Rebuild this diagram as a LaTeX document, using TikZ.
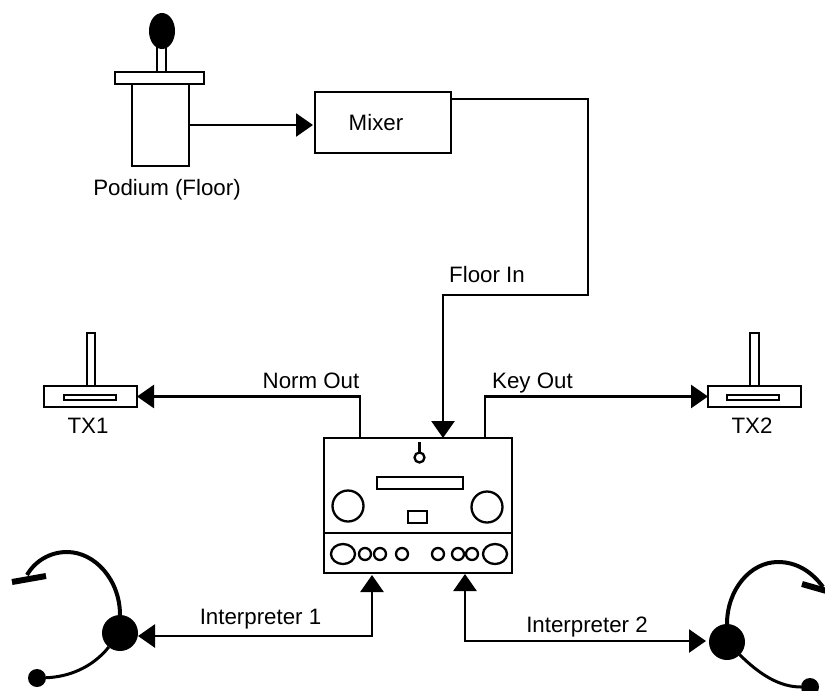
\documentclass[tikz,border=0pt]{standalone}
\usepackage{fontspec}
\setmainfont{Liberation Sans}
\usetikzlibrary{shapes.geometric, arrows.meta, positioning}
\tikzset{
    box/.style={
        draw, rectangle, line width=2.3pt, inner sep=0pt, outer sep=0pt, fill=white, text=black
    },
    knob/.style={
        draw, circle, line width=2.3pt, inner sep=0pt, outer sep=0pt, minimum size=12pt, fill=white
    },
    bigknob/.style={
        draw, circle, line width=2.3pt, inner sep=0pt, outer sep=0pt, minimum size=31pt, fill=white
    },
    oval/.style={
        draw, ellipse, line width=2.3pt, inner sep=0pt, outer sep=0pt, minimum width=24pt, minimum height=20pt, fill=white
    },
    ball/.style={
        circle, fill=black, inner sep=0pt, outer sep=0pt, minimum size=36pt
    },
    earpiece/.style={
        circle, fill=black, inner sep=0pt, outer sep=0pt, minimum size=18pt
    },
    tag/.style={
        anchor=base, inner sep=0pt, text=black, font=\fontsize{22.3}{26}\selectfont
    },
    arrow/.style={
        line width=2.7pt, -{Triangle[length=17pt,width=23pt]}
    },
    biarrow/.style={
        line width=2.7pt, {Triangle[length=17pt,width=23pt]}-{Triangle[length=17pt,width=23pt]}
    },
    band/.style={
        line width=4pt
    },
    mic/.style={
        line width=3pt
    },
    pad/.style={
        line width=6pt
    }
}
\begin{document}
\begin{tikzpicture}[x=1pt, y=-1pt]
    \useasboundingbox (0,0) rectangle (825,691);

    % podium
    \node (stem) [box, minimum width=9pt, minimum height=26pt] at (161.5,60) {};
    \node (head) [ellipse, fill=black, inner sep=0pt, minimum width=26pt, minimum height=36pt] at (162,31) {};
    \node (shelf) [box, minimum width=89pt, minimum height=12pt] at (159.5,78) {};
    \node (podium) [box, minimum width=57pt, minimum height=82pt] at (160.5,125) {};
    \node (podiumtag) [tag] at (167,195) {Podium (Floor)};

    % mixer
    \node (mixer) [box, minimum width=136pt, minimum height=61pt] at (383,122.5) {};
    \node (mixertag) [tag] at (376,130) {Mixer};

    % transmitters
    \node (stem1) [box, minimum width=8pt, minimum height=53pt] at (91,359.5) {};
    \node (tx1) [box, minimum width=93pt, minimum height=21pt] at (90.5,396.5) {};
    \node (slot1) [box, minimum width=52pt, minimum height=5pt, line width=1.5pt] at (90,397.5) {};
    \node (tx1tag) [tag] at (88,433) {TX1};
    \node (stem2) [box, minimum width=9pt, minimum height=53pt] at (754.5,359.5) {};
    \node (tx2) [box, minimum width=93pt, minimum height=21pt] at (754.5,396.5) {};
    \node (slot2) [box, minimum width=52pt, minimum height=5pt, line width=1.5pt] at (753,397.5) {};
    \node (tx2tag) [tag] at (752,433) {TX2};

    % console
    \node (console) [box, minimum width=188pt, minimum height=95pt] at (418,485.5) {};
    \node (panel) [box, minimum width=188pt, minimum height=40pt] at (418,553) {};
    \node (phone) [knob, minimum size=10pt] at (419.5,457.5) {};
    \node (display) [box, minimum width=86pt, minimum height=12pt] at (420,483) {};
    \node (meter) [box, minimum width=19pt, minimum height=12pt] at (417.5,517) {};
    \node (dialL) [bigknob] at (348,506) {};
    \node (dialR) [bigknob] at (487,507) {};
    \node (ovalL) [oval] at (343,554) {};
    \node (knobA) [knob] at (365,554) {};
    \node (knobB) [knob] at (380,554) {};
    \node (knobC) [knob] at (402,554) {};
    \node (knobD) [knob] at (438,554) {};
    \node (knobE) [knob] at (458,554) {};
    \node (knobF) [knob] at (472,554) {};
    \node (ovalR) [oval] at (495,554) {};
    \coordinate (jack) at (419.5,442);
    \draw [line width=3.5pt] (jack) -- (phone.north);

    % headsets
    \node (ball1) [ball] at (120,633) {};
    \node (ear1) [earpiece] at (37,678) {};
    \coordinate (pad1a) at (12,582);
    \coordinate (pad1b) at (46,576);
    \coordinate (band1) at (27,575);
    \node (ball2) [ball] at (727,642) {};
    \node (ear2) [earpiece] at (810,687) {};
    \coordinate (pad2a) at (802,584);
    \coordinate (pad2b) at (830,592);
    \coordinate (band2) at (823,587);
    \draw [band] (ball1) .. controls (120,580) and (95,552) .. (67,552) .. controls (50,552) and (35,561) .. (band1);
    \draw [pad] (pad1a) -- (pad1b);
    \draw [mic] (ball1) .. controls (92,668) and (68,677) .. (ear1);
    \draw [band] (ball2) .. controls (727,590) and (750,562) .. (778,562) .. controls (797,562) and (812,572) .. (band2);
    \draw [pad] (pad2a) -- (pad2b);
    \draw [mic] (ball2) .. controls (760,675) and (780,687) .. (ear2);

    % free ends of the lines
    \coordinate (mixerout) at (451,99);
    \coordinate (floorbend) at (588,295);
    \coordinate (floorin) at (443,438);
    \coordinate (normout) at (360,438);
    \coordinate (keyout) at (485,438);
    \coordinate (int1in) at (372,575);
    \coordinate (int1end) at (138,636);
    \coordinate (int2in) at (465,574);
    \coordinate (int2end) at (706,641);

    % arrows
    \draw [arrow, shorten >=2pt] (podium.east) -- (podium.east -| mixer.west);
    \draw [arrow] (mixerout) -| (floorbend) -| (floorin);
    \draw [arrow] (normout) |- (tx1.east);
    \draw [arrow] (keyout) |- (tx2.west);
    \draw [biarrow] (int1in) |- (int1end);
    \draw [biarrow] (int2in) |- (int2end);

    % labels
    \node (floortag) [tag] at (487,282) {Floor In};
    \node (normtag) [tag] at (311,388) {Norm Out};
    \node (keytag) [tag] at (532.5,388) {Key Out};
    \node (int1tag) [tag] at (260.5,624) {Interpreter 1};
    \node (int2tag) [tag] at (587,632) {Interpreter 2};

\end{tikzpicture}
\end{document}
